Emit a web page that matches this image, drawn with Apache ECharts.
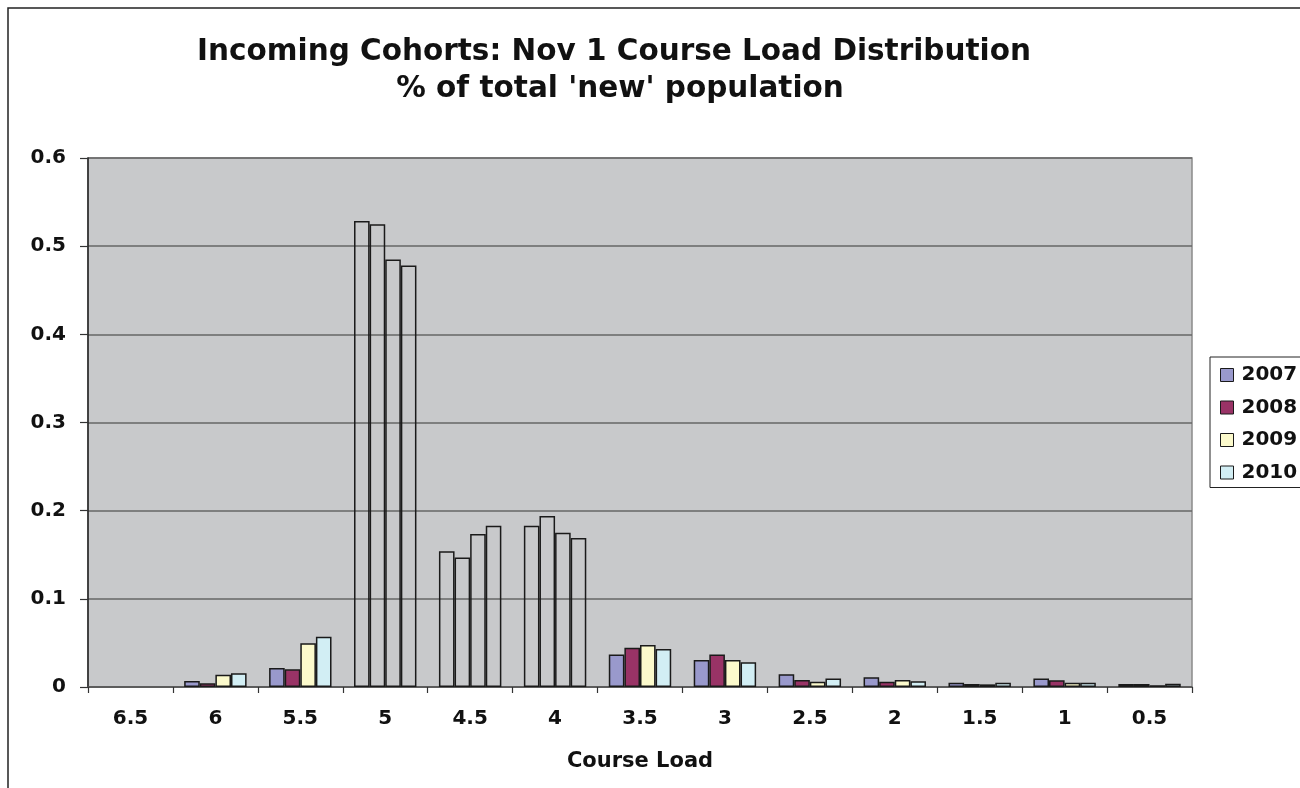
<!DOCTYPE html>
<html>
<head>
<meta charset="utf-8">
<script src="https://cdn.jsdelivr.net/npm/echarts@6/dist/echarts.min.js"></script>
<style>html,body{margin:0;padding:0;background:#fff;}#c{width:1300px;height:788px;}</style>
</head>
<body>
<div id="c"></div>
<script>
const categories = ['6.5','6','5.5','5','4.5','4','3.5','3','2.5','2','1.5','1','0.5'];
const seriesNames = ['2007','2008','2009','2010'];
const v2007 = [null, 0.0068, 0.0215, 0.5285, 0.154, 0.183, 0.037, 0.0306, 0.0144, 0.011, 0.0049, 0.0095, 0.0034];
const v2008 = [null, 0.0042, 0.020, 0.525, 0.147, 0.194, 0.0446, 0.037, 0.0079, 0.006, 0.0034, 0.0076, 0.0034];
const v2009 = [null, 0.014, 0.0495, 0.485, 0.1735, 0.175, 0.0476, 0.0306, 0.006, 0.0079, 0.0030, 0.0049, 0.002];
const v2010 = [null, 0.0155, 0.057, 0.478, 0.183, 0.169, 0.043, 0.028, 0.0095, 0.0065, 0.0049, 0.0049, 0.0038];
const yTicks = [0, 0.1, 0.2, 0.3, 0.4, 0.5, 0.6];
const outlineOnlyCats = ['5','4.5','4'];

const colors = ['#9999CC','#993366','#FCFACC','#D2EEF4'];
const FONT = "'DejaVu Sans', 'Liberation Sans', Arial, sans-serif";
const allValues = [v2007, v2008, v2009, v2010];

const chart = echarts.init(document.getElementById('c'), null, {renderer:'canvas'});
const series = allValues.map((vals, i) => ({
  name: seriesNames[i],
  type: 'bar',
  barGap: '0%',
  barCategoryGap: '26.5%',
  itemStyle: {color: colors[i], borderColor: '#1a1a1a', borderWidth: 1.5},
  emphasis: {disabled: true},
  data: vals.map((v, k) => outlineOnlyCats.indexOf(categories[k]) >= 0
    ? {value: v, itemStyle: {color: 'rgba(0,0,0,0)'}}
    : v)
}));

chart.setOption({
  animation: false,
  backgroundColor: '#ffffff',
  color: colors,
  graphic: [
    {type: 'rect', shape: {x: 8, y: 8, width: 1320, height: 800}, style: {fill: 'none', stroke: '#222', lineWidth: 1.5}, silent: true, z: -1},
    {type: 'text', x: 614, y: 52, style: {text: 'Incoming Cohorts: Nov 1 Course Load Distribution', font: 'bold 29.5px ' + FONT, fill: '#111', textAlign: 'center', textVerticalAlign: 'middle'}},
    {type: 'text', x: 620, y: 89, style: {text: "% of total 'new' population", font: 'bold 29.5px ' + FONT, fill: '#111', textAlign: 'center', textVerticalAlign: 'middle'}}
  ],
  legend: {
    orient: 'vertical',
    left: 1210,
    top: 357,
    padding: [8, 20, 5, 10],
    itemGap: 12.5,
    itemWidth: 13,
    itemHeight: 13,
    icon: 'rect',
    borderColor: '#222',
    borderWidth: 1,
    backgroundColor: '#fff',
    textStyle: {fontFamily: FONT, fontWeight: 'bold', fontSize: 20, color: '#111', lineHeight: 20, padding: [0, 0, 0, 3]},
    itemStyle: {borderColor: '#1a1a1a', borderWidth: 1},
    data: seriesNames
  },
  grid: {
    left: 88, top: 158, width: 1104, height: 529,
    show: true, backgroundColor: '#C8C9CB', borderColor: '#8a8a8a', borderWidth: 1.5
  },
  xAxis: {
    type: 'category',
    data: categories,
    name: 'Course Load',
    nameLocation: 'middle',
    nameGap: 64,
    nameTextStyle: {fontFamily: FONT, fontWeight: 'bold', fontSize: 21, color: '#111'},
    axisLine: {lineStyle: {color: '#555', width: 1.5}},
    axisTick: {show: true, length: 6, lineStyle: {color: '#333', width: 1.2}},
    axisLabel: {margin: 22, fontFamily: FONT, fontWeight: 'bold', fontSize: 20, color: '#111'}
  },
  yAxis: {
    type: 'value',
    min: yTicks[0],
    max: yTicks[yTicks.length - 1],
    interval: 0.1,
    axisLine: {show: true, lineStyle: {color: '#222', width: 1.5}},
    axisTick: {show: true, length: 8, lineStyle: {color: '#333', width: 1.2}},
    axisLabel: {margin: 22, fontFamily: FONT, fontWeight: 'bold', fontSize: 20, color: '#111',
      formatter: v => v === 0 ? '0' : v.toFixed(1)},
    splitLine: {lineStyle: {color: '#666', width: 1.5}}
  },
  series: series
});
</script>
</body>
</html>
